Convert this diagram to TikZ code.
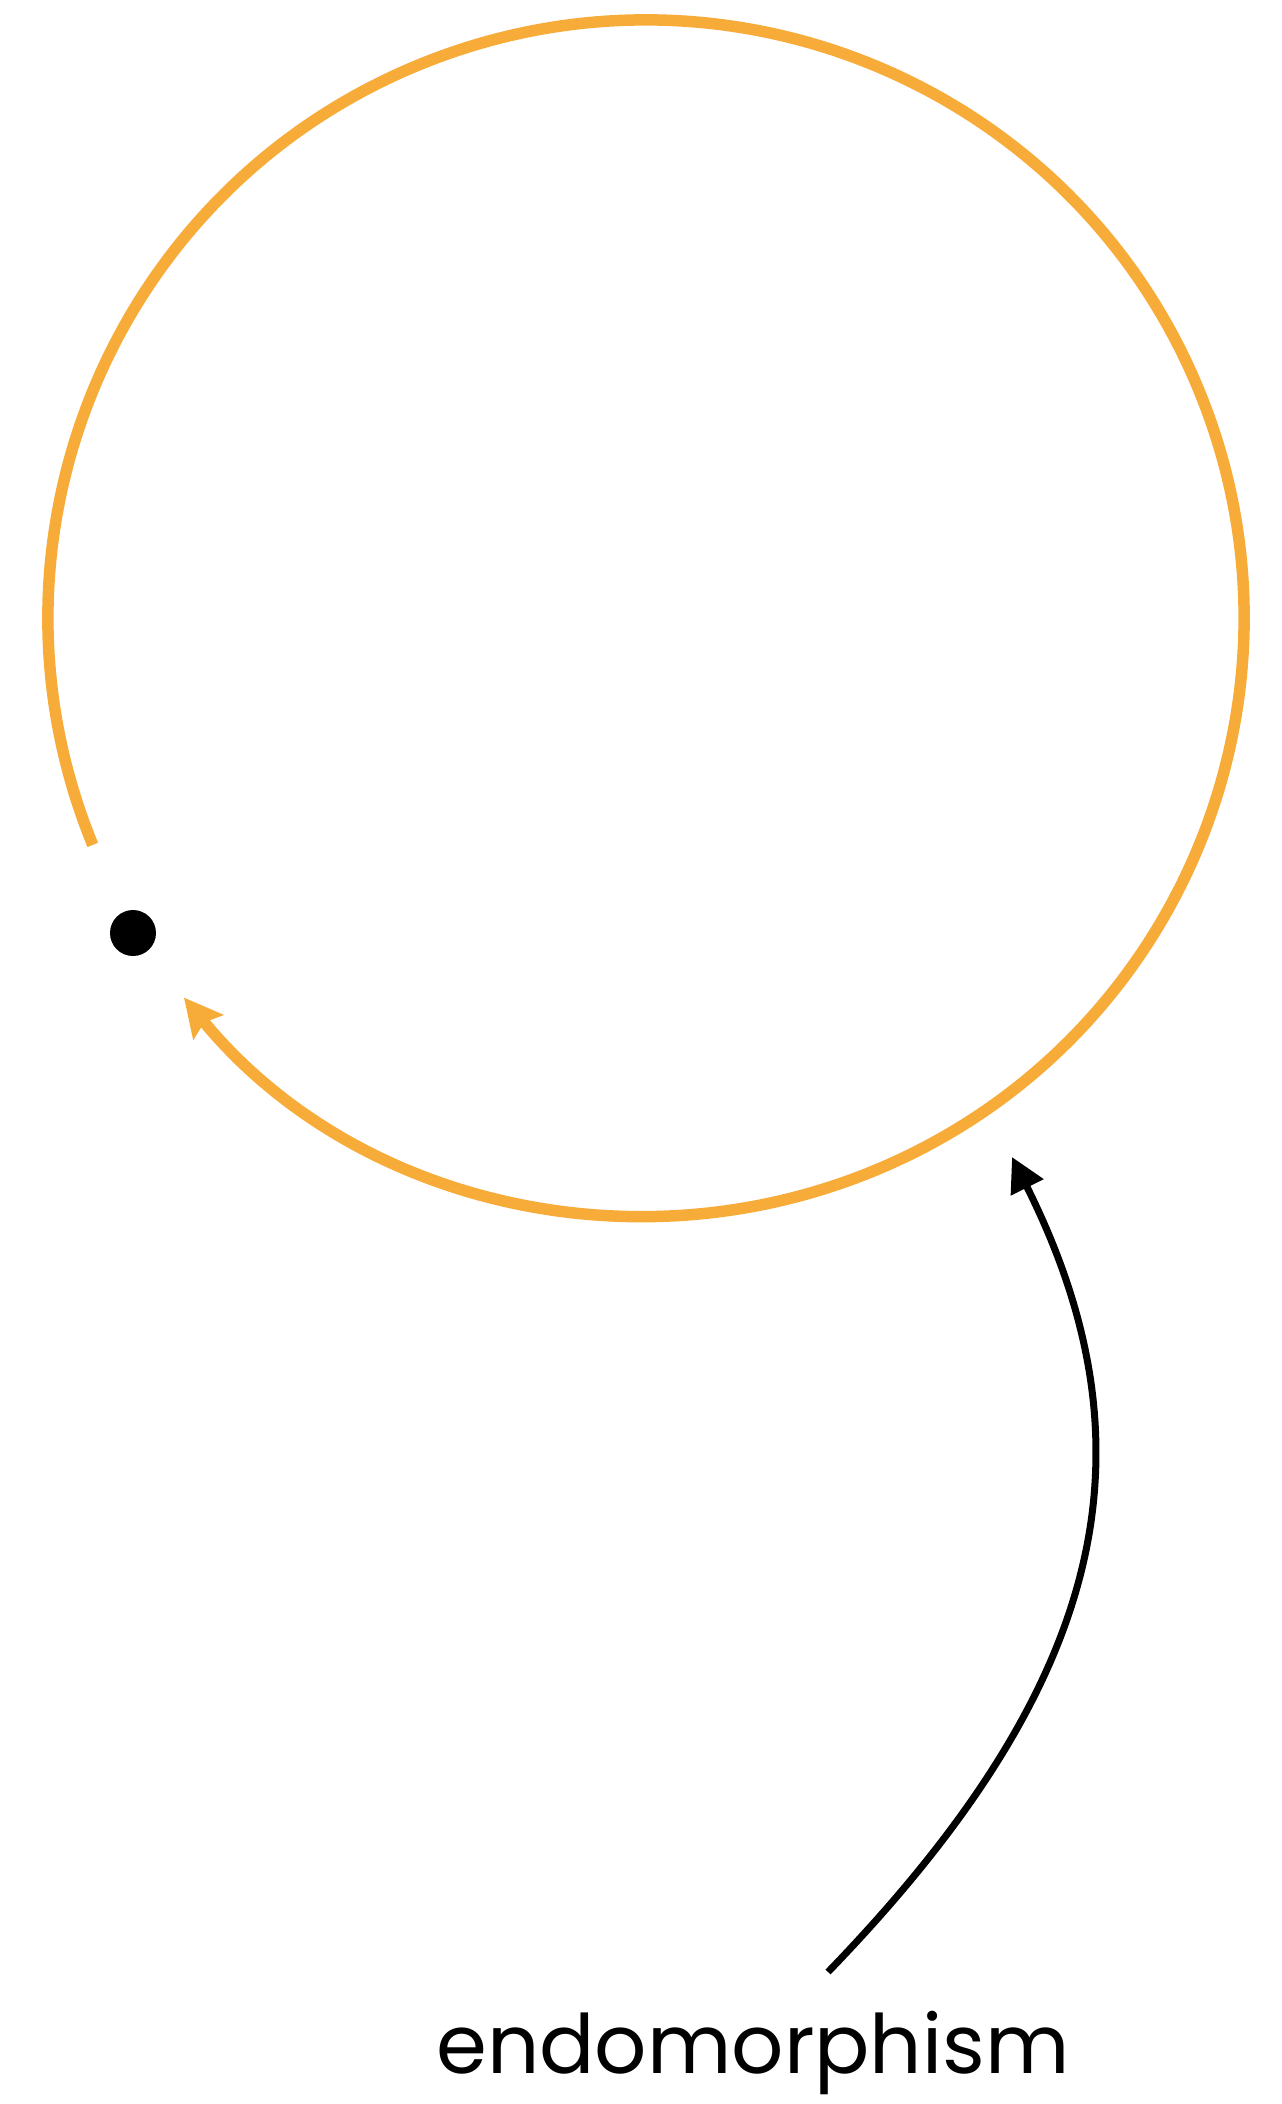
\documentclass[tikz,border=0pt]{standalone}
\usepackage{xcolor}
\usepackage{fontspec}
\setmainfont{Poppins}
\usepackage{tikz}
\usetikzlibrary{arrows.meta, positioning, calc}

\definecolor{endoorange}{RGB}{247,172,58}

\begin{document}
\begin{tikzpicture}[
    object/.style={circle, fill=black, inner sep=0pt, minimum size=0.46cm},
    endo arrow/.style={-{Stealth[length=0.38cm, width=0.38cm, inset=0.06cm]}, line width=0.115cm, color=endoorange},
    pointer/.style={-{Triangle[length=0.34cm, width=0.35cm]}, line width=0.07cm, color=black},
    name label/.style={font=\fontsize{23.3}{27}\selectfont, anchor=base, inner sep=0pt}
]

\useasboundingbox (0,0) rectangle (12.81,-21.04);

% Object with its loop
\coordinate (centre) at (6.46,-6.18);
\node[object] (obj) at (1.33,-9.33) {};
\draw[endo arrow] ([shift={(202.3:5.98)}]centre) arc[start angle=202.3, end angle=-140.6, radius=5.98];

% Label with pointer
\node[name label] (lbl) at (7.53,-20.73) {endomorphism};
\coordinate (tail) at (8.28,-19.72);
\coordinate (tip) at (10.12,-11.57);
\draw[pointer] (tail) .. controls (11.06,-16.844) and (11.595,-14.52) .. (tip);

\end{tikzpicture}
\end{document}
